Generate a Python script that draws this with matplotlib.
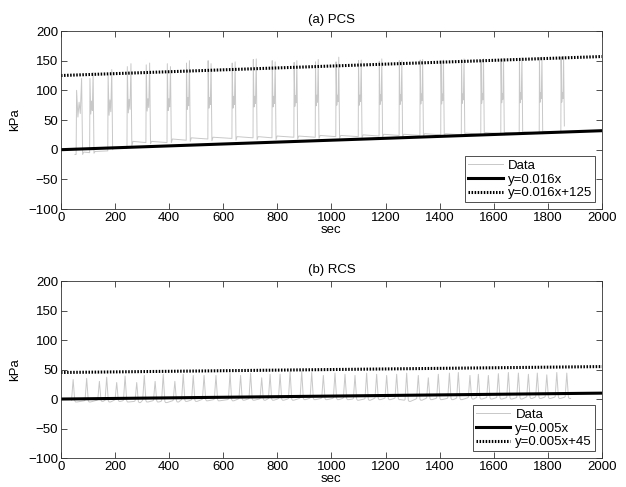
#Pressure traces for PCS and RCS with linear bound lines.

import matplotlib.pyplot as plt
import numpy as np

plt.rcParams['font.family'] = ['Liberation Sans', 'DejaVu Sans']
plt.rcParams['font.size'] = 9.5

#PCS cycles (sec, kPa).
pcs_onset = [56, 106, 173, 244, 314, 392, 463, 543, 632, 710, 780, 861, 940,
             1016, 1099, 1176, 1250, 1327, 1404, 1480, 1552, 1626, 1694, 1768, 1848]
pcs_width = [22, 14, 16, 16, 15, 14, 13, 13, 13, 13, 13, 12, 12,
             12, 12, 11, 11, 11, 11, 11, 11, 11, 11, 11, 11]
pcs_peak1 = [100, 120, 125, 140, 143, 145, 146, 150, 146, 152, 150, 147, 148,
             148, 150, 149, 150, 151, 150, 152, 151, 153, 154, 155, 156]
pcs_peak2 = [120, 130, 135, 145, 146, 140, 150, 145, 148, 153, 148, 150, 152,
             156, 151, 153, 150, 152, 151, 153, 153, 154, 155, 156, 157]
pcs_dip = [55, 60, 58, 62, 65, 66, 68, 70, 70, 72, 72, 73, 74,
           75, 75, 76, 76, 77, 77, 78, 78, 79, 79, 80, 80]
pcs_hump = [80, 82, 84, 85, 86, 86, 88, 88, 90, 90, 90, 91, 92,
            92, 92, 93, 93, 94, 94, 94, 95, 95, 96, 96, 96]
pcs_low = [-8, -6, 0, 6, 10, 12, 14, 15, 16, 17, 17, 18, 19,
           19, 20, 21, 21, 22, 23, 23, 24, 25, 26, 27, 40]
pcs_base_start = [-4, -3, 4, 14, 14, 18, 20, 21, 22, 22, 23, 23, 24,
                  24, 25, 26, 26, 27, 27, 28, 29, 29, 30, 31, 40]
pcs_base_end = [-5, -2, 2, 12, 12, 16, 18, 19, 20, 20, 21, 21, 22,
                22, 23, 24, 24, 25, 25, 26, 27, 27, 28, 29, 40]

#RCS spikes (sec, kPa).
rcs_peak_t = [45, 95, 142, 169, 206, 237, 280, 308, 348, 378, 421, 452, 489, 529,
              573, 625, 664, 701, 742, 773, 810, 847, 890, 927, 970, 1013, 1050,
              1087, 1130, 1167, 1204, 1241, 1278, 1321, 1358, 1395, 1436, 1469,
              1512, 1543, 1580, 1617, 1654, 1691, 1728, 1761, 1796, 1833, 1870]
rcs_peak = [33, 35, 30, 37, 28, 39, 28, 40, 30, 42, 30, 42, 40, 40,
            40, 44, 40, 44, 36, 42, 42, 47, 47, 45, 40, 44, 42,
            40, 44, 42, 40, 42, 44, 40, 36, 42, 44, 45,
            40, 42, 40, 43, 45, 44, 42, 44, 41, 45, 44]
rcs_base = [-2, -2, -1, -2, -1, -2, -3, -2, -2, -3, -2, -1, -1, 0,
            0, 0, 1, 1, 1, 1, 1, 1, 2, 2, 2, 2, 2,
            1, 1, 2, 2, 2, -1, 1, 2, 2, 2, 2,
            3, 3, 3, 3, 3, 3, 4, 4, 4, 4, 4]

#Bound lines from the legends.
line_x = [0, 2000]
pcs_slope, pcs_offset = 0.016, 125
rcs_slope, rcs_offset = 0.005, 45

#Shape of one PCS cycle as fractions of the pair width.
pcs_shape = [0.08, 0.3, 0.5, 0.7, 0.92]


def pcs_trace():
    t, y = [], []
    for i in range(len(pcs_onset)):
        t0, w = pcs_onset[i], pcs_width[i]
        if i == 0:
            t.append(t0 - 4)
            y.append(-8)
        t += [t0, t0 + pcs_shape[0] * w, t0 + pcs_shape[1] * w, t0 + pcs_shape[2] * w,
              t0 + pcs_shape[3] * w, t0 + pcs_shape[4] * w, t0 + w + 2]
        y += [pcs_base_end[i - 1] if i > 0 else -8, pcs_peak1[i], pcs_dip[i],
              pcs_hump[i], pcs_dip[i] + 6, pcs_peak2[i], pcs_low[i]]
        if i < len(pcs_onset) - 1:
            t += [t0 + w + 6, pcs_onset[i + 1] - 2]
            y += [pcs_base_start[i], pcs_base_end[i]]
    return np.array(t), np.array(y)


def rcs_trace():
    t, y = [], []
    for i in range(len(rcs_peak_t)):
        tp = rcs_peak_t[i]
        t += [tp - 6, tp, tp + 6, tp + 9, tp + 14]
        y += [rcs_base[i], rcs_peak[i], rcs_base[i] - 1, rcs_base[i] - 3, rcs_base[i] - 3]
        if i < len(rcs_peak_t) - 1:
            gap_end = rcs_peak_t[i + 1] - 6
            if gap_end - tp > 22:
                t.append(gap_end - 3)
                y.append(rcs_base[i + 1] - 1)
    return np.array(t), np.array(y)


fig = plt.figure(figsize=(6.26, 4.87), dpi=100)
ax1 = fig.add_axes([0.0974, 0.5708, 0.8642, 0.3655])
ax2 = fig.add_axes([0.0974, 0.0595, 0.8642, 0.3634])

panels = [
    (ax1, pcs_trace(), pcs_slope, pcs_offset, '(a) PCS'),
    (ax2, rcs_trace(), rcs_slope, rcs_offset, '(b) RCS'),
]

lx = np.array(line_x)
for ax, (tt, yy), slope, offset, title in panels:
    ax.plot(tt, yy, color='#c8c8c8', lw=0.7, label='Data')
    ax.plot(lx, slope * lx, color='black', lw=2.2, label='y=%gx' % slope)
    ax.plot(lx, slope * lx + offset, color='black', lw=2.2,
            linestyle=(0, (0.5, 0.5)), label='y=%gx+%g' % (slope, offset))
    ax.set_xlim(0, 2000)
    ax.set_ylim(-100, 200)
    ax.set_xticks(np.arange(0, 2001, 200))
    ax.set_yticks(np.arange(-100, 201, 50))
    ax.tick_params(direction='in', top=True, right=True, length=4, width=0.6,
                   labelsize=9.5, color='#333333', pad=2)
    for s in ax.spines.values():
        s.set_linewidth(0.6)
        s.set_color('#333333')
    ax.set_title(title, fontsize=9.5, pad=6)
    ax.set_xlabel('sec', fontsize=9.5, labelpad=0)
    ax.set_ylabel('kPa', fontsize=9.5, labelpad=5)
    leg = ax.legend(loc='lower right', fancybox=False, framealpha=1,
                    edgecolor='#333333', fontsize=9.5, handlelength=2.6,
                    labelspacing=0.1, borderpad=0.25, handletextpad=0.4,
                    borderaxespad=0.5)
    leg.get_frame().set_linewidth(0.6)

plt.savefig('out.png', dpi=100)
